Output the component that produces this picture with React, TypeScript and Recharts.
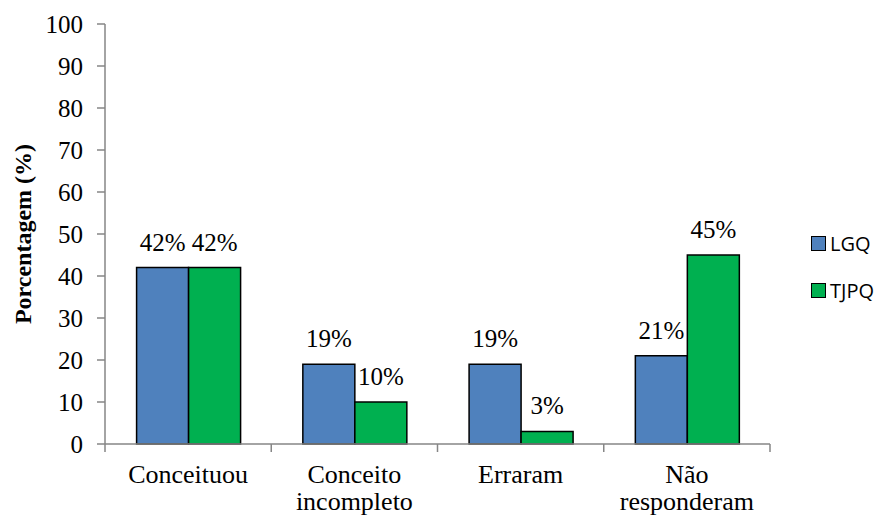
import React from 'react';
import { BarChart, Bar, XAxis, YAxis } from 'recharts';

const categories = ['Conceituou', 'Conceito\nincompleto', 'Erraram', 'Não\nresponderam'];
const lgq = [42, 19, 19, 21];
const tjpq = [42, 10, 3, 45];
const yTicks = [0, 10, 20, 30, 40, 50, 60, 70, 80, 90, 100];
const seriesNames = ['LGQ', 'TJPQ'];
const seriesColors = ['#4F81BD', '#00B050'];

const data = categories.map((name, i) => ({ name, LGQ: lgq[i], TJPQ: tjpq[i] }));

const serif = '"Liberation Serif", "Times New Roman", serif';
const axisColor = '#868686';

const W = 888;
const H = 517;
const margin = { top: 24, right: 118, left: 0, bottom: 8 };
const yAxisWidth = 105;
// width of one category band, used to put the x tick marks between groups
const band = (W - margin.left - margin.right - yAxisWidth) / categories.length;

const CategoryTick = (props: any) => {
  const { x, y, payload, index } = props;
  const lines = String(payload.value).split('\n');
  const left = x - band / 2;
  const right = x + band / 2;
  return (
    <g>
      <line x1={left} x2={left} y1={y - 8} y2={y} stroke={axisColor} strokeWidth={1.5} />
      {index === categories.length - 1 && (
        <line x1={right} x2={right} y1={y - 8} y2={y} stroke={axisColor} strokeWidth={1.5} />
      )}
      <text x={x} y={y + 31} textAnchor="middle" style={{ fontFamily: serif, fontSize: 26, fill: '#000' }}>
        {lines.map((line: string, i: number) => (
          <tspan key={i} x={x} dy={i === 0 ? 0 : 27}>{line}</tspan>
        ))}
      </text>
    </g>
  );
};

// value label sitting above each bar
const renderValue = (props: any) => {
  const { x, y, width, value, index } = props;
  return (
    <g key={`v-${index}-${x}`}>
      <text
        x={Number(x) + Number(width) / 2}
        y={Number(y) - 17}
        textAnchor="middle"
        fontFamily={serif}
        fontSize={25}
        style={{ fontFamily: serif, fontSize: 25, fill: '#000' }}
      >
        {`${value}%`}
      </text>
    </g>
  );
};

const LegendBox = () => (
  <div
    style={{
      position: 'absolute',
      left: 811,
      top: 220,
      fontFamily: '"Open Sans", "Liberation Sans", sans-serif',
      fontSize: 20,
      color: '#000',
    }}
  >
    {seriesNames.map((label, i) => (
      <div key={label} style={{ display: 'flex', alignItems: 'center', height: 47 }}>
        <span style={{ width: 13, height: 13, background: seriesColors[i], border: '1.5px solid #000', marginRight: 4 }} />
        <span>{label}</span>
      </div>
    ))}
  </div>
);

export default function App() {
  return (
    <div style={{ position: 'absolute', left: 0, top: 0, width: W, height: H, background: '#fff', fontFamily: serif }}>
      <BarChart
        width={W}
        height={H}
        data={data}
        margin={margin}
        barCategoryGap="19%"
        barGap={0}
      >
        <XAxis
          dataKey="name"
          height={65}
          axisLine={{ stroke: axisColor, strokeWidth: 1.5 }}
          tickLine={false}
          tick={<CategoryTick />}
          interval={0}
        />
        <YAxis
          width={yAxisWidth}
          domain={[0, 100]}
          ticks={yTicks}
          interval={0}
          axisLine={{ stroke: axisColor, strokeWidth: 1.5 }}
          tickLine={{ stroke: axisColor, strokeWidth: 1.5 }}
          tickSize={8}
          tickMargin={14}
          tick={{ style: { fontFamily: serif, fontSize: 25, fill: '#000' } }}
          label={{
            value: 'Porcentagem (%)',
            angle: -90,
            position: 'insideLeft',
            offset: 22,
            style: { fontFamily: serif, fontSize: 24, fontWeight: 'bold', fill: '#000', textAnchor: 'middle' },
          }}
        />
        {seriesNames.map((key, i) => (
          <Bar
            key={key}
            dataKey={key}
            fill={seriesColors[i]}
            stroke="#000"
            strokeWidth={1.5}
            isAnimationActive={false}
            label={renderValue}
          />
        ))}
      </BarChart>
      <LegendBox />
    </div>
  );
}
